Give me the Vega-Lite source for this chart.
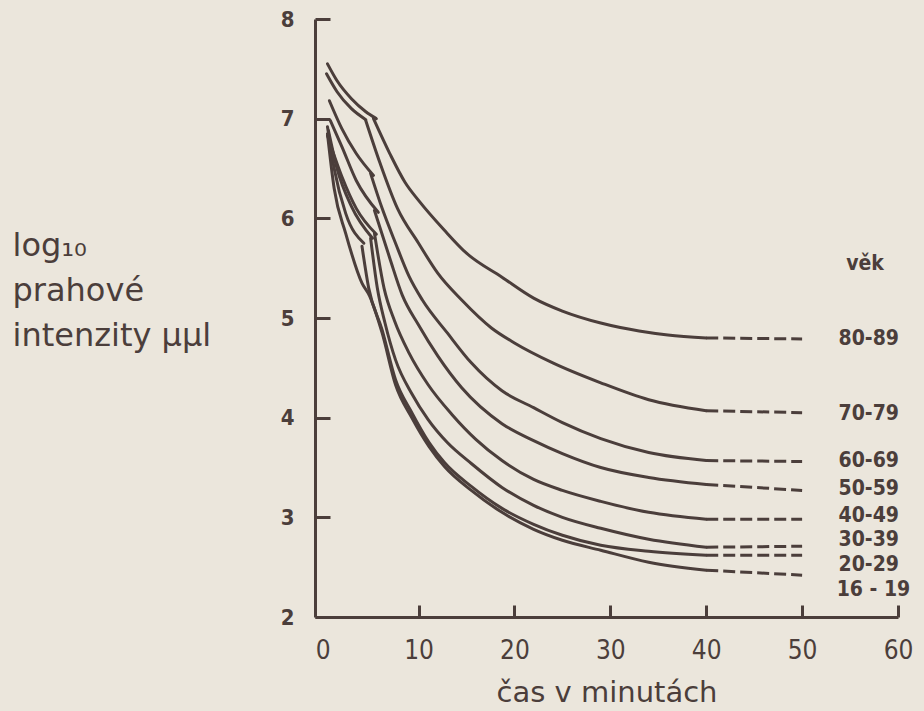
{
  "$schema": "https://vega.github.io/schema/vega-lite/v6.json",
  "autosize": "none",
  "width": 583,
  "height": 598,
  "padding": {"left": 315, "top": 19, "right": 26, "bottom": 94},
  "background": "#ebe6dc",
  "config": {
    "view": {"stroke": null},
    "font": "DejaVu Sans Condensed, DejaVu Sans",
    "axis": {
      "domainColor": "#4b3e3b", "domainWidth": 3, "tickColor": "#4b3e3b", "tickWidth": 3,
      "labelColor": "#4b3e3b", "titleColor": "#4b3e3b", "grid": false,
      "labelFont": "DejaVu Sans Condensed, DejaVu Sans", "titleFont": "DejaVu Sans"
    }
  },
  "datasets": {
    "curves": [
      {"age": "80-89", "seg": "80-89 cone", "t": 0.5, "v": 7.55},
      {"age": "80-89", "seg": "80-89 cone", "t": 1.5, "v": 7.38},
      {"age": "80-89", "seg": "80-89 cone", "t": 3, "v": 7.2},
      {"age": "80-89", "seg": "80-89 cone", "t": 4.5, "v": 7.07},
      {"age": "80-89", "seg": "80-89 cone", "t": 5.6, "v": 7.0},
      {"age": "80-89", "seg": "80-89 rod", "t": 5.3, "v": 7.0},
      {"age": "80-89", "seg": "80-89 rod", "t": 7, "v": 6.65},
      {"age": "80-89", "seg": "80-89 rod", "t": 8.6, "v": 6.36},
      {"age": "80-89", "seg": "80-89 rod", "t": 10, "v": 6.18},
      {"age": "80-89", "seg": "80-89 rod", "t": 12.7, "v": 5.88},
      {"age": "80-89", "seg": "80-89 rod", "t": 15, "v": 5.65},
      {"age": "80-89", "seg": "80-89 rod", "t": 18.7, "v": 5.41},
      {"age": "80-89", "seg": "80-89 rod", "t": 22, "v": 5.2},
      {"age": "80-89", "seg": "80-89 rod", "t": 25, "v": 5.07},
      {"age": "80-89", "seg": "80-89 rod", "t": 29, "v": 4.95},
      {"age": "80-89", "seg": "80-89 rod", "t": 33, "v": 4.87},
      {"age": "80-89", "seg": "80-89 rod", "t": 36, "v": 4.83},
      {"age": "80-89", "seg": "80-89 rod", "t": 40, "v": 4.8},
      {"age": "80-89", "seg": "80-89 dash", "t": 40, "v": 4.8},
      {"age": "80-89", "seg": "80-89 dash", "t": 50, "v": 4.79},

      {"age": "70-79", "seg": "70-79 cone", "t": 0.4, "v": 7.45},
      {"age": "70-79", "seg": "70-79 cone", "t": 1.5, "v": 7.27},
      {"age": "70-79", "seg": "70-79 cone", "t": 3, "v": 7.1},
      {"age": "70-79", "seg": "70-79 cone", "t": 4.5, "v": 6.99},
      {"age": "70-79", "seg": "70-79 rod", "t": 4.5, "v": 6.98},
      {"age": "70-79", "seg": "70-79 rod", "t": 6, "v": 6.55},
      {"age": "70-79", "seg": "70-79 rod", "t": 7.8, "v": 6.1},
      {"age": "70-79", "seg": "70-79 rod", "t": 10, "v": 5.75},
      {"age": "70-79", "seg": "70-79 rod", "t": 12, "v": 5.45},
      {"age": "70-79", "seg": "70-79 rod", "t": 14.5, "v": 5.18},
      {"age": "70-79", "seg": "70-79 rod", "t": 17.6, "v": 4.9},
      {"age": "70-79", "seg": "70-79 rod", "t": 20, "v": 4.75},
      {"age": "70-79", "seg": "70-79 rod", "t": 24, "v": 4.55},
      {"age": "70-79", "seg": "70-79 rod", "t": 29, "v": 4.35},
      {"age": "70-79", "seg": "70-79 rod", "t": 34, "v": 4.18},
      {"age": "70-79", "seg": "70-79 rod", "t": 40, "v": 4.07},
      {"age": "70-79", "seg": "70-79 dash", "t": 40, "v": 4.07},
      {"age": "70-79", "seg": "70-79 dash", "t": 50, "v": 4.05},

      {"age": "60-69", "seg": "60-69 cone", "t": 0.7, "v": 7.18},
      {"age": "60-69", "seg": "60-69 cone", "t": 2, "v": 6.9},
      {"age": "60-69", "seg": "60-69 cone", "t": 3.5, "v": 6.65},
      {"age": "60-69", "seg": "60-69 cone", "t": 5.3, "v": 6.43},
      {"age": "60-69", "seg": "60-69 rod", "t": 5.0, "v": 6.45},
      {"age": "60-69", "seg": "60-69 rod", "t": 6.2, "v": 6.1},
      {"age": "60-69", "seg": "60-69 rod", "t": 7.6, "v": 5.75},
      {"age": "60-69", "seg": "60-69 rod", "t": 9, "v": 5.42},
      {"age": "60-69", "seg": "60-69 rod", "t": 10.4, "v": 5.18},
      {"age": "60-69", "seg": "60-69 rod", "t": 13, "v": 4.85},
      {"age": "60-69", "seg": "60-69 rod", "t": 15.5, "v": 4.55},
      {"age": "60-69", "seg": "60-69 rod", "t": 18.7, "v": 4.27},
      {"age": "60-69", "seg": "60-69 rod", "t": 22, "v": 4.1},
      {"age": "60-69", "seg": "60-69 rod", "t": 25, "v": 3.95},
      {"age": "60-69", "seg": "60-69 rod", "t": 29, "v": 3.79},
      {"age": "60-69", "seg": "60-69 rod", "t": 34, "v": 3.65},
      {"age": "60-69", "seg": "60-69 rod", "t": 40, "v": 3.57},
      {"age": "60-69", "seg": "60-69 dash", "t": 40, "v": 3.57},
      {"age": "60-69", "seg": "60-69 dash", "t": 50, "v": 3.56},

      {"age": "50-59", "seg": "50-59 cone", "t": 0.8, "v": 6.98},
      {"age": "50-59", "seg": "50-59 cone", "t": 2, "v": 6.72},
      {"age": "50-59", "seg": "50-59 cone", "t": 3.5, "v": 6.38},
      {"age": "50-59", "seg": "50-59 cone", "t": 5.8, "v": 6.06},
      {"age": "50-59", "seg": "50-59 rod", "t": 5.4, "v": 6.08},
      {"age": "50-59", "seg": "50-59 rod", "t": 7, "v": 5.6},
      {"age": "50-59", "seg": "50-59 rod", "t": 8.3, "v": 5.23},
      {"age": "50-59", "seg": "50-59 rod", "t": 10, "v": 4.93},
      {"age": "50-59", "seg": "50-59 rod", "t": 12, "v": 4.62},
      {"age": "50-59", "seg": "50-59 rod", "t": 14.5, "v": 4.3},
      {"age": "50-59", "seg": "50-59 rod", "t": 18.7, "v": 3.94},
      {"age": "50-59", "seg": "50-59 rod", "t": 22, "v": 3.77},
      {"age": "50-59", "seg": "50-59 rod", "t": 25, "v": 3.64},
      {"age": "50-59", "seg": "50-59 rod", "t": 29, "v": 3.5},
      {"age": "50-59", "seg": "50-59 rod", "t": 34, "v": 3.4},
      {"age": "50-59", "seg": "50-59 rod", "t": 40, "v": 3.33},
      {"age": "50-59", "seg": "50-59 dash", "t": 40, "v": 3.33},
      {"age": "50-59", "seg": "50-59 dash", "t": 50, "v": 3.27},

      {"age": "40-49", "seg": "40-49 cone", "t": 0.5, "v": 6.83},
      {"age": "40-49", "seg": "40-49 cone", "t": 2, "v": 6.42},
      {"age": "40-49", "seg": "40-49 cone", "t": 3.5, "v": 6.1},
      {"age": "40-49", "seg": "40-49 cone", "t": 5.6, "v": 5.84},
      {"age": "40-49", "seg": "40-49 rod", "t": 5.4, "v": 5.85},
      {"age": "40-49", "seg": "40-49 rod", "t": 6.4, "v": 5.3},
      {"age": "40-49", "seg": "40-49 rod", "t": 7.5, "v": 4.97},
      {"age": "40-49", "seg": "40-49 rod", "t": 9, "v": 4.65},
      {"age": "40-49", "seg": "40-49 rod", "t": 11, "v": 4.33},
      {"age": "40-49", "seg": "40-49 rod", "t": 13.5, "v": 4.03},
      {"age": "40-49", "seg": "40-49 rod", "t": 16, "v": 3.78},
      {"age": "40-49", "seg": "40-49 rod", "t": 18.7, "v": 3.57},
      {"age": "40-49", "seg": "40-49 rod", "t": 22, "v": 3.38},
      {"age": "40-49", "seg": "40-49 rod", "t": 25, "v": 3.27},
      {"age": "40-49", "seg": "40-49 rod", "t": 29, "v": 3.16},
      {"age": "40-49", "seg": "40-49 rod", "t": 34, "v": 3.05},
      {"age": "40-49", "seg": "40-49 rod", "t": 40, "v": 2.98},
      {"age": "40-49", "seg": "40-49 dash", "t": 40, "v": 2.98},
      {"age": "40-49", "seg": "40-49 dash", "t": 50, "v": 2.98},

      {"age": "30-39", "seg": "30-39 cone", "t": 0.6, "v": 6.88},
      {"age": "30-39", "seg": "30-39 cone", "t": 1.5, "v": 6.5},
      {"age": "30-39", "seg": "30-39 cone", "t": 3, "v": 6.12},
      {"age": "30-39", "seg": "30-39 cone", "t": 5.2, "v": 5.8},
      {"age": "30-39", "seg": "30-39 rod", "t": 5.0, "v": 5.8},
      {"age": "30-39", "seg": "30-39 rod", "t": 5.7, "v": 5.3},
      {"age": "30-39", "seg": "30-39 rod", "t": 6.5, "v": 4.95},
      {"age": "30-39", "seg": "30-39 rod", "t": 7.6, "v": 4.58},
      {"age": "30-39", "seg": "30-39 rod", "t": 9.3, "v": 4.24},
      {"age": "30-39", "seg": "30-39 rod", "t": 11, "v": 3.98},
      {"age": "30-39", "seg": "30-39 rod", "t": 13, "v": 3.75},
      {"age": "30-39", "seg": "30-39 rod", "t": 15.5, "v": 3.54},
      {"age": "30-39", "seg": "30-39 rod", "t": 18.7, "v": 3.3},
      {"age": "30-39", "seg": "30-39 rod", "t": 22, "v": 3.12},
      {"age": "30-39", "seg": "30-39 rod", "t": 25, "v": 3.0},
      {"age": "30-39", "seg": "30-39 rod", "t": 29, "v": 2.89},
      {"age": "30-39", "seg": "30-39 rod", "t": 34, "v": 2.78},
      {"age": "30-39", "seg": "30-39 rod", "t": 40, "v": 2.7},
      {"age": "30-39", "seg": "30-39 dash", "t": 40, "v": 2.7},
      {"age": "30-39", "seg": "30-39 dash", "t": 50, "v": 2.71},

      {"age": "20-29", "seg": "20-29 cone", "t": 0.5, "v": 6.92},
      {"age": "20-29", "seg": "20-29 cone", "t": 1.2, "v": 6.5},
      {"age": "20-29", "seg": "20-29 cone", "t": 2.4, "v": 6.05},
      {"age": "20-29", "seg": "20-29 cone", "t": 4.3, "v": 5.75},
      {"age": "20-29", "seg": "20-29 rod", "t": 4.1, "v": 5.72},
      {"age": "20-29", "seg": "20-29 rod", "t": 4.8, "v": 5.3},
      {"age": "20-29", "seg": "20-29 rod", "t": 6.2, "v": 4.88},
      {"age": "20-29", "seg": "20-29 rod", "t": 7.6, "v": 4.38},
      {"age": "20-29", "seg": "20-29 rod", "t": 9.3, "v": 4.05},
      {"age": "20-29", "seg": "20-29 rod", "t": 11.1, "v": 3.75},
      {"age": "20-29", "seg": "20-29 rod", "t": 12.7, "v": 3.55},
      {"age": "20-29", "seg": "20-29 rod", "t": 15.5, "v": 3.31},
      {"age": "20-29", "seg": "20-29 rod", "t": 18.7, "v": 3.09},
      {"age": "20-29", "seg": "20-29 rod", "t": 22, "v": 2.93},
      {"age": "20-29", "seg": "20-29 rod", "t": 25, "v": 2.82},
      {"age": "20-29", "seg": "20-29 rod", "t": 29, "v": 2.72},
      {"age": "20-29", "seg": "20-29 rod", "t": 34, "v": 2.66},
      {"age": "20-29", "seg": "20-29 rod", "t": 40, "v": 2.62},
      {"age": "20-29", "seg": "20-29 dash", "t": 40, "v": 2.62},
      {"age": "20-29", "seg": "20-29 dash", "t": 50, "v": 2.62},

      {"age": "16-19", "seg": "16-19 rod", "t": 0.5, "v": 6.85},
      {"age": "16-19", "seg": "16-19 rod", "t": 1.2, "v": 6.3},
      {"age": "16-19", "seg": "16-19 rod", "t": 2.4, "v": 5.85},
      {"age": "16-19", "seg": "16-19 rod", "t": 4.1, "v": 5.35},
      {"age": "16-19", "seg": "16-19 rod", "t": 4.9, "v": 5.22},
      {"age": "16-19", "seg": "16-19 rod", "t": 6.2, "v": 4.85},
      {"age": "16-19", "seg": "16-19 rod", "t": 7.6, "v": 4.33},
      {"age": "16-19", "seg": "16-19 rod", "t": 9.3, "v": 4.0},
      {"age": "16-19", "seg": "16-19 rod", "t": 11.1, "v": 3.71},
      {"age": "16-19", "seg": "16-19 rod", "t": 12.7, "v": 3.51},
      {"age": "16-19", "seg": "16-19 rod", "t": 15.5, "v": 3.27},
      {"age": "16-19", "seg": "16-19 rod", "t": 18.7, "v": 3.05},
      {"age": "16-19", "seg": "16-19 rod", "t": 22, "v": 2.88},
      {"age": "16-19", "seg": "16-19 rod", "t": 25, "v": 2.77},
      {"age": "16-19", "seg": "16-19 rod", "t": 29, "v": 2.67},
      {"age": "16-19", "seg": "16-19 rod", "t": 34, "v": 2.55},
      {"age": "16-19", "seg": "16-19 rod", "t": 40, "v": 2.47},
      {"age": "16-19", "seg": "16-19 dash", "t": 40, "v": 2.47},
      {"age": "16-19", "seg": "16-19 dash", "t": 50, "v": 2.42}
    ],
    "labels": [
      {"text": "věk", "t": 54.6, "v": 5.54},
      {"text": "80-89", "t": 53.8, "v": 4.79},
      {"text": "70-79", "t": 53.8, "v": 4.04},
      {"text": "60-69", "t": 53.8, "v": 3.57},
      {"text": "50-59", "t": 53.8, "v": 3.28},
      {"text": "40-49", "t": 53.8, "v": 3.01},
      {"text": "30-39", "t": 53.8, "v": 2.77},
      {"text": "20-29", "t": 53.8, "v": 2.52},
      {"text": "16 - 19", "t": 53.6, "v": 2.27}
    ]
  },
  "layer": [
    {
      "data": {"name": "curves"},
      "transform": [{"filter": "indexof(datum.seg, 'dash') < 0"}],
      "mark": {"type": "line", "interpolate": "monotone", "color": "#4b3e3b", "strokeWidth": 3, "strokeCap": "round"},
      "encoding": {
        "x": {"field": "t", "type": "quantitative",
          "scale": {"domain": [-0.8, 60], "nice": false, "zero": false},
          "axis": {"values": [0, 10, 20, 30, 40, 50, 60], "format": "d", "tickSize": -12,
            "tickOpacity": {"condition": {"test": "datum.value === 0", "value": 0}, "value": 1},
            "labelFontSize": 26, "labelPadding": 32, "labelFlush": false,
            "title": "čas v minutách", "titleFontSize": 29, "titleFontWeight": "normal",
            "titleY": 84, "titleBaseline": "alphabetic"}},
        "y": {"field": "v", "type": "quantitative",
          "scale": {"domain": [2, 8], "nice": false, "zero": false},
          "axis": {"values": [2, 3, 4, 5, 6, 7, 8], "format": "d", "tickSize": -15,
            "labelFontSize": 22, "labelFontWeight": "bold", "labelPadding": 36,
            "title": ["log₁₀", "prahové", "intenzity μμl"],
            "titleAngle": 0, "titleAlign": "left", "titleBaseline": "top",
            "titleX": -303, "titleY": 211, "titleFontSize": 32, "titleFontWeight": "normal",
            "titleLineHeight": 45}},
        "detail": {"field": "seg", "type": "nominal"}
      }
    },
    {
      "data": {"name": "curves"},
      "transform": [{"filter": "indexof(datum.seg, 'dash') >= 0"}],
      "mark": {"type": "line", "color": "#4b3e3b", "strokeWidth": 3, "strokeDash": [12, 5]},
      "encoding": {
        "x": {"field": "t", "type": "quantitative"},
        "y": {"field": "v", "type": "quantitative"},
        "detail": {"field": "seg", "type": "nominal"}
      }
    },
    {
      "data": {"name": "labels"},
      "mark": {"type": "text", "align": "left", "baseline": "middle", "fontSize": 21, "fontWeight": "bold", "color": "#4b3e3b",
        "font": "DejaVu Sans Condensed, DejaVu Sans"},
      "encoding": {
        "x": {"field": "t", "type": "quantitative"},
        "y": {"field": "v", "type": "quantitative"},
        "text": {"field": "text"}
      }
    }
  ]
}
